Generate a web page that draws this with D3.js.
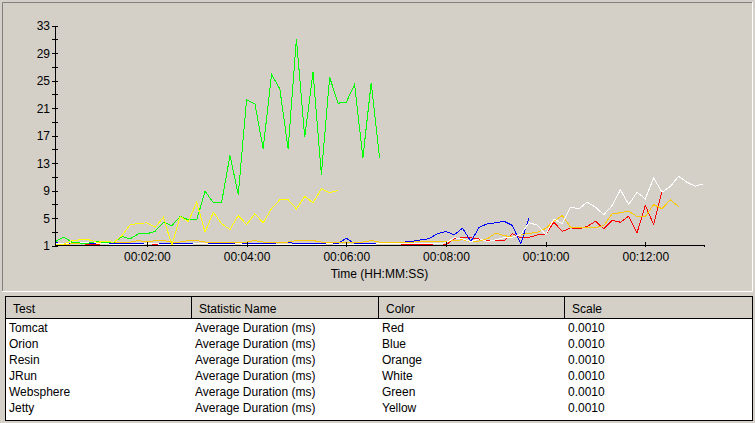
<!DOCTYPE html>
<html>
<head>
<meta charset="utf-8">
<script src="https://cdn.jsdelivr.net/npm/d3@7"></script>
<style>
body { margin: 0; background: #d4d0c8; }
svg { display: block; font-family: "Liberation Sans", Arial, sans-serif; font-size: 12px; }
</style>
</head>
<body>
<div id="chart"></div>
<script>
// samples are taken every 10 seconds, first one at 00:00:10
var startSec = 10;
var stepSec = 10;
var endSec = 790;

// average duration per sample (scaled by 0.0010)
var tomcat = [1.0, 1.0, 1.0, 1.0, 1.12, 1.12, 1.0, 1.0, 1.0, 1.0, 1.0, 1.0, 1.12, 1.0, 1.0, 1.0,
  1.0, 1.0, 1.0, 1.0, 1.0, 1.0, 1.0, 1.0, 1.0, 1.0, 1.0, 1.0, 1.0, 1.0, 1.0, 1.0,
  1.0, 1.0, 1.0, 1.0, 1.0, 1.12, 1.0, 1.0, 1.0, 1.0, 1.12, 1.12, 1.12, 1.12, 1.0, 1.12,
  1.95, 2.16, 2.12, 1.95, 1.73, 1.73, 1.73, 2.7, 2.12, 2.2, 2.53, 2.56, 4.39, 3.04,
  3.57, 3.43, 3.76, 4.53, 3.43, 4.64, 4.39, 5.26, 2.85, 6.82, 4.05, 8.9];
var orion = [1.4, 1.28, 1.28, 1.28, 1.28, 1.28, 1.28, 1.28, 1.28, 1.28, 1.28, 1.28, 1.28, 1.28, 1.28, 1.28,
  1.28, 1.28, 1.28, 1.28, 1.28, 1.28, 1.28, 1.28, 1.28, 1.28, 1.28, 1.45, 1.45, 1.28, 1.28, 1.28,
  1.28, 1.28, 1.3, 2.06, 1.28, 1.28, 1.28, 1.28, 1.35, 1.44, 1.5, 1.63, 1.83, 2.0, 2.75, 3.04,
  2.56, 3.52, 1.58, 3.66, 4.16, 4.3, 4.53, 3.91, 1.25, 5.04];
var resin = [1.05, 1.1, 1.25, 1.35, 1.4, 1.45, 1.5, 1.5, 1.5, 1.5, 1.72, 1.5, 1.72, 1.72, 1.5, 1.5,
  1.72, 1.72, 1.5, 1.5, 1.5, 1.5, 1.5, 1.5, 1.72, 1.5, 1.5, 1.5, 1.5, 1.72, 1.72, 1.72,
  1.5, 1.5, 1.5, 1.5, 1.5, 1.5, 1.72, 1.5, 1.5, 1.5, 1.5, 1.5, 1.55, 1.6, 1.65, 1.58,
  1.73, 1.83, 1.58, 1.65, 2.0, 2.82, 2.45, 2.21, 2.6, 2.75, 2.93, 3.47, 4.56, 5.36,
  3.66, 3.66, 3.57, 3.57, 3.91, 5.61, 5.76, 5.99, 5.22, 5.22, 6.96, 6.34, 7.65, 6.67];
var jrun = [1.28, 1.28, 1.4, 1.5, 1.5, 1.35, 1.28, 1.12, 1.12, 1.12, 1.12, 1.28, 1.28, 1.12, 1.12, 1.12,
  1.12, 1.28, 1.28, 1.12, 1.12, 1.12, 1.28, 1.12, 1.12, 1.12, 1.12, 1.12, 1.12, 1.12, 1.12, 1.12,
  1.12, 1.28, 1.12, 1.12, 1.12, 1.12, 1.12, 1.28, 1.28, 1.25, 1.25, 1.25, 1.25, 1.25, 1.25, 1.39,
  2.12, 1.97, 1.58, 1.97, 1.58, 1.83, 2.12, 2.21, 2.6, 4.3, 3.98, 2.6, 4.88, 4.16,
  6.57, 6.34, 7.3, 6.57, 5.47, 6.82, 9.1, 6.96, 8.75, 7.79, 10.84, 8.75, 9.58, 11.07,
  10.2, 9.63, 9.97];
var websphere = [1.58, 2.24, 1.44, 1.36, 1.36, 1.58, 1.44, 1.4, 2.3, 1.97, 2.7, 2.7, 3.08, 4.39, 3.87, 5.22,
  4.74, 4.74, 8.9, 7.21, 7.3, 14.09, 8.42, 22.19, 21.61, 15.07, 25.88, 23.79, 15.07, 31.07, 16.75, 26.2,
  11.33, 25.48, 21.7, 21.84, 24.42, 13.76, 24.67, 13.76];
var jetty = [1.07, 1.2, 1.73, 1.83, 1.83, 1.48, 1.63, 1.44, 2.45, 4.03, 4.2, 4.3, 3.66, 5.12, 1.0, 5.22,
  4.49, 7.3, 2.93, 5.84, 4.16, 3.33, 5.36, 4.05, 5.61, 4.3, 6.34, 7.65, 7.65, 6.34, 8.13, 7.21,
  9.25, 8.67, 9.0];

var testNames = ["Tomcat", "Orion", "Resin", "JRun", "Websphere", "Jetty"];
var statNames = ["Average Duration (ms)", "Average Duration (ms)", "Average Duration (ms)",
  "Average Duration (ms)", "Average Duration (ms)", "Average Duration (ms)"];
var colorNames = ["Red", "Blue", "Orange", "White", "Green", "Yellow"];
var lineColors = ["#ff0000", "#0000ff", "#ffc800", "#ffffff", "#00ff00", "#ffff00"];
var scaleLabels = ["0.0010", "0.0010", "0.0010", "0.0010", "0.0010", "0.0010"];
var tableHeaders = ["Test", "Statistic Name", "Color", "Scale"];

var xTickSecs = [120, 240, 360, 480, 600, 720];
var yTicks = [1, 3, 5, 7, 9, 11, 13, 15, 17, 19, 21, 23, 25, 27, 29, 31, 33];
var yLabels = [1, 5, 9, 13, 17, 21, 25, 29, 33];

var seriesValues = [tomcat, orion, resin, jrun, websphere, jetty];

var W = 755, H = 423;
var svg = d3.select("#chart").append("svg")
  .attr("width", W)
  .attr("height", H);

svg.append("rect").attr("width", W).attr("height", H).attr("fill", "#d4d0c8");

// chart panel etched border
svg.append("path").attr("d", "M2.5,291V2.5H753").attr("fill", "none").attr("stroke", "#808080");
svg.append("path").attr("d", "M2,291.5H752.5V2").attr("fill", "none").attr("stroke", "#ffffff");

var x = d3.scaleLinear().domain([startSec, endSec]).range([55.5, 703.5]);
var y = d3.scaleLinear().domain([1, 33]).range([245.5, 25.5]);

function hms(s) {
  var h = Math.floor(s / 3600), m = Math.floor((s % 3600) / 60), sec = s % 60;
  return d3.format("02d")(h) + ":" + d3.format("02d")(m) + ":" + d3.format("02d")(sec);
}

// the series lines
var line = d3.line()
  .x(function(d, i) { return x(startSec + i * stepSec); })
  .y(function(d) { return y(d); });

svg.append("g").selectAll("path")
  .data(seriesValues)
  .enter().append("path")
    .attr("d", line)
    .attr("fill", "none")
    .attr("stroke", function(d, i) { return lineColors[i]; })
    .attr("stroke-width", 1)
    .attr("shape-rendering", "crispEdges");

// y axis, ticks crossing the line
var yAxis = svg.append("g")
  .attr("transform", "translate(55,0)")
  .call(d3.axisLeft(y).tickValues(yTicks).tickSizeOuter(0).tickSize(3)
    .tickFormat(function(d) { return yLabels.indexOf(d) >= 0 ? d : ""; }));
yAxis.selectAll(".tick line").attr("x1", 3).attr("x2", -3).attr("shape-rendering", "crispEdges");
yAxis.select(".domain").attr("shape-rendering", "crispEdges");
yAxis.selectAll("text").attr("x", -5).attr("dy", "0.36em")
  .attr("font-family", "Liberation Sans, Arial, sans-serif").attr("font-size", 12).attr("fill", "#000");

// x axis
var xAxis = svg.append("g")
  .attr("transform", "translate(0,245)")
  .call(d3.axisBottom(x).tickValues(xTickSecs).tickSizeOuter(0).tickSize(2).tickFormat(hms));
xAxis.selectAll(".tick line").attr("y1", -3).attr("y2", 2).attr("shape-rendering", "crispEdges");
xAxis.select(".domain").attr("shape-rendering", "crispEdges");
xAxis.selectAll("text").attr("y", 16).attr("dy", 0)
  .attr("font-family", "Liberation Sans, Arial, sans-serif").attr("font-size", 12).attr("fill", "#000");

svg.append("text")
  .attr("x", (x.range()[0] + x.range()[1]) / 2)
  .attr("y", 278)
  .attr("text-anchor", "middle")
  .text("Time (HH:MM:SS)");

// legend table
var colX = [6, 192, 379, 565];
var table = svg.append("g");
table.append("rect")
  .attr("x", 5.5).attr("y", 296.5).attr("width", 747).attr("height", 124)
  .attr("fill", "#ffffff").attr("stroke", "#000");
table.append("rect")
  .attr("x", 6).attr("y", 297).attr("width", 746).attr("height", 21)
  .attr("fill", "#d4d0c8");
table.append("line")
  .attr("x1", 6).attr("x2", 752).attr("y1", 318.5).attr("y2", 318.5)
  .attr("stroke", "#000");
table.selectAll("line.div")
  .data(colX.slice(1))
  .enter().append("line")
    .attr("class", "div")
    .attr("x1", function(d) { return d - 0.5; })
    .attr("x2", function(d) { return d - 0.5; })
    .attr("y1", 297).attr("y2", 318)
    .attr("stroke", "#000");
table.selectAll("text.head")
  .data(tableHeaders)
  .enter().append("text")
    .attr("class", "head")
    .attr("x", function(d, i) { return colX[i] + 7; })
    .attr("y", 313)
    .text(function(d) { return d; });

var rows = testNames.map(function(t, i) {
  return [t, statNames[i], colorNames[i], scaleLabels[i]];
});
var rowG = table.selectAll("g.row")
  .data(rows)
  .enter().append("g")
    .attr("class", "row")
    .attr("transform", function(d, i) { return "translate(0," + (332 + i * 16) + ")"; });
rowG.selectAll("text")
  .data(function(d) { return d; })
  .enter().append("text")
    .attr("x", function(d, i) { return colX[i] + 3; })
    .text(function(d) { return d; });
</script>
</body>
</html>
